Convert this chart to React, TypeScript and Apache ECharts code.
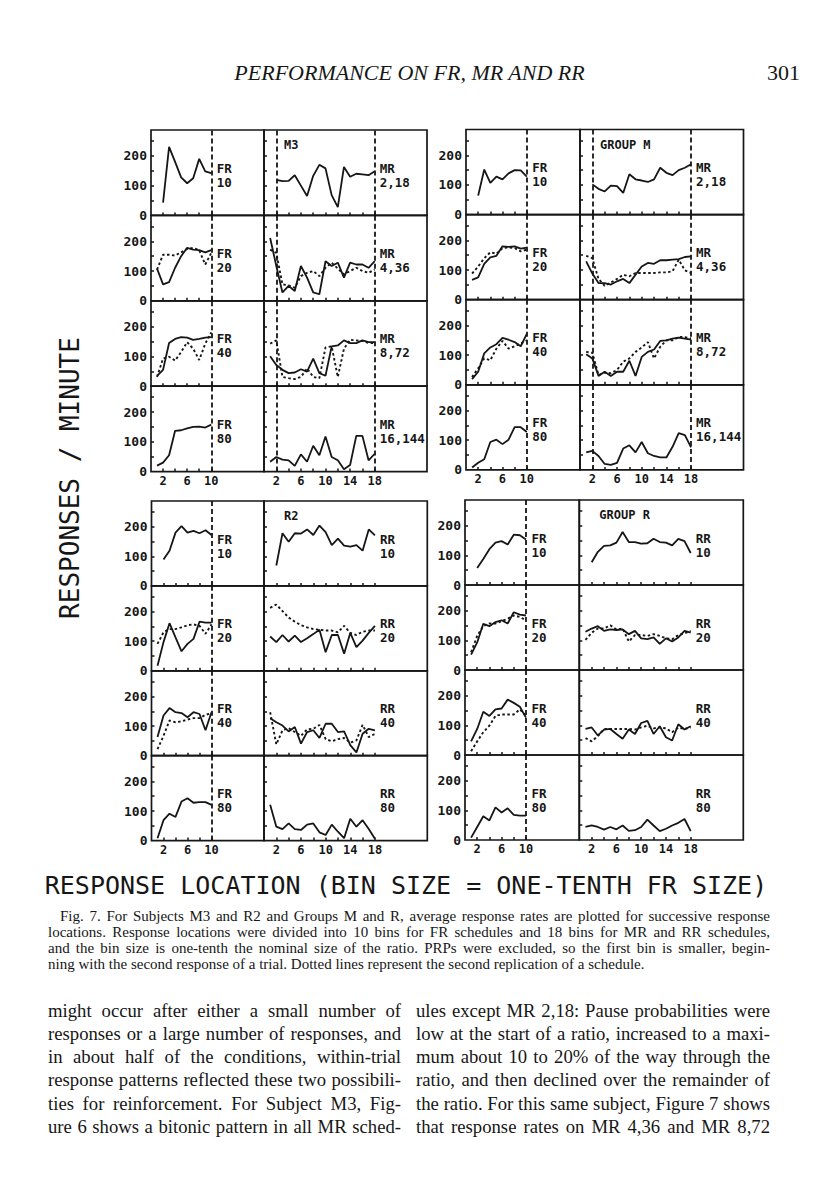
import React, { useEffect, useRef } from "react";
import * as echarts from "echarts";

// ---------- axis ticks / labels ----------
const FR_TICKS = [2, 4, 6, 8, 10];
const FR_TICK_LABELS = [2, 6, 10];
const MR_TICKS = [2, 4, 6, 8, 10, 12, 14, 16, 18];
const MR_TICK_LABELS = [2, 6, 10, 14, 18];
const Y_TICKS = [50, 100, 150, 200, 250];
const Y_TICK_LABELS = [0, 100, 200];

const FR_SCHEDULES = ["10", "20", "40", "80"];
const MR_SCHEDULES = ["2,18", "4,36", "8,72", "16,144"];
const RR_SCHEDULES = ["10", "20", "40", "80"];

// ---------- Subject M3 ----------
const m3Fr10 = [43, 230, 180, 128, 108, 125, 190, 148, 142]; // starts at bin 2
const m3Mr2_18 = [119, 115, 116, 135, 100, 65, 133, 170, 158, 68, 28, 163, 130, 140, 138, 135, 148]; // bin 2
const m3Fr20 = [108, 55, 63, 111, 150, 178, 172, 170, 163, 170];
const m3Fr20b = [105, 155, 155, 152, 163, 174, 178, 170, 122, 161];
const m3Mr4_36 = [211, 117, 28, 50, 33, 117, 78, 28, 22, 133, 117, 128, 78, 128, 122, 122, 111, 133];
const m3Mr4_36b = [172, 161, 55, 52, 44, 83, 94, 100, 83, 111, 128, 108, 89, 100, 111, 100, 94, 105];
const m3Fr40 = [35, 55, 145, 159, 165, 163, 156, 159, 163, 165];
const m3Fr40b = [31, 93, 99, 86, 115, 148, 126, 88, 143, 181];
const m3Mr8_72 = [101, 71, 55, 44, 46, 57, 49, 93, 44, 35, 134, 137, 154, 145, 145, 154, 148, 148];
const m3Mr8_72b = [143, 154, 31, 27, 24, 31, 60, 31, 27, 130, 134, 31, 126, 156, 154, 152, 145, 145];
const m3Fr80 = [20, 30, 55, 137, 139, 145, 150, 151, 148, 158];
const m3Mr16_144 = [33, 49, 40, 38, 19, 58, 33, 87, 55, 118, 49, 38, 8, 22, 120, 120, 38, 60];

// ---------- Group M ----------
const gmFr10 = [64, 152, 107, 128, 119, 139, 150, 149, 128]; // bin 2
const gmMr2_18 = [102, 87, 78, 98, 96, 73, 136, 119, 115, 110, 119, 158, 141, 133, 150, 158, 170]; // bin 2
const gmFr20 = [67, 75, 121, 143, 148, 180, 178, 180, 172, 176];
const gmFr20b = [88, 112, 140, 160, 155, 174, 176, 174, 163, 169];
const gmMr4_36 = [129, 88, 56, 56, 51, 62, 70, 56, 84, 112, 124, 121, 133, 133, 135, 137, 144, 146];
const gmMr4_36b = [148, 140, 70, 47, 58, 70, 84, 79, 90, 90, 90, 90, 92, 92, 96, 135, 99, 90];
const gmFr40 = [19, 44, 106, 126, 137, 158, 152, 144, 130, 172];
const gmFr40b = [26, 56, 89, 83, 122, 148, 122, 130, 139, 150];
const gmMr8_72 = [103, 89, 30, 44, 30, 44, 44, 81, 30, 94, 111, 119, 148, 150, 156, 159, 156, 152];
const gmMr8_72b = [111, 108, 33, 41, 39, 50, 78, 89, 111, 126, 144, 89, 128, 150, 150, 161, 161, 156];
const gmFr80 = [8, 24, 36, 94, 102, 87, 102, 144, 144, 128];
const gmMr16_144 = [59, 64, 47, 20, 17, 24, 72, 83, 59, 94, 56, 47, 42, 42, 78, 124, 117, 76];

// ---------- Subject R2 ----------
const r2Fr10 = [89, 119, 180, 202, 180, 186, 178, 188, 172]; // bin 2
const r2Rr10 = [69, 178, 149, 178, 177, 191, 172, 204, 182, 138, 160, 136, 133, 138, 119, 191, 171]; // bin 2
const r2Fr20 = [17, 97, 161, 113, 66, 91, 108, 166, 163, 163];
const r2Fr20b = [91, 130, 141, 141, 147, 154, 157, 152, 125, 157];
const r2Rr20 = [116, 97, 121, 99, 119, 97, 110, 124, 139, 63, 121, 121, 58, 128, 80, 102, 128, 152];
const r2Rr20b = [213, 224, 202, 180, 166, 154, 147, 141, 139, 136, 136, 130, 152, 128, 121, 132, 136, 136];
const r2Fr40 = [63, 136, 161, 147, 144, 130, 147, 141, 86, 147];
const r2Fr40b = [22, 67, 119, 113, 116, 122, 127, 127, 138, 144];
const r2Rr40 = [127, 113, 102, 82, 97, 41, 80, 86, 60, 108, 108, 80, 82, 36, 11, 74, 91, 86];
const r2Rr40b = [147, 38, 86, 93, 80, 67, 89, 91, 104, 56, 49, 56, 60, 44, 52, 104, 63, 74];
const r2Fr80 = [8, 69, 91, 80, 132, 143, 128, 130, 130, 121];
const r2Rr80 = [121, 47, 39, 58, 39, 36, 54, 58, 28, 19, 54, 30, 8, 74, 47, 69, 39, 6];

// ---------- Group R ----------
const grFr10 = [57, 88, 121, 143, 148, 137, 170, 168, 154]; // bin 2
const grRr10 = [77, 112, 132, 134, 143, 179, 145, 145, 140, 141, 156, 145, 143, 134, 156, 148, 108]; // bin 2
const grFr20 = [52, 93, 156, 148, 162, 168, 157, 195, 187, 184];
const grFr20b = [60, 115, 148, 157, 157, 165, 173, 184, 179, 168];
const grRr20 = [129, 140, 148, 132, 137, 135, 137, 121, 132, 107, 104, 110, 88, 107, 96, 110, 132, 126];
const grRr20b = [102, 126, 140, 140, 151, 137, 140, 96, 118, 118, 115, 121, 115, 107, 104, 118, 124, 132];
const grFr40 = [46, 88, 146, 132, 154, 157, 187, 176, 163, 126];
const grFr40b = [13, 46, 77, 99, 132, 137, 137, 137, 154, 132];
const grRr40 = [88, 93, 66, 86, 88, 71, 55, 86, 71, 108, 115, 71, 97, 60, 49, 104, 86, 97];
const grRr40b = [57, 46, 64, 88, 88, 88, 88, 88, 86, 93, 99, 90, 93, 90, 77, 93, 88, 93];
const grFr80 = [8, 44, 80, 66, 110, 93, 107, 85, 82, 82];
const grRr80 = [44, 49, 44, 35, 44, 36, 49, 31, 33, 44, 69, 49, 30, 38, 49, 58, 71, 30];

// ---------- texts ----------
const HEADER = "PERFORMANCE ON FR, MR AND RR";
const PAGE_NO = "301";
const Y_TITLE = "RESPONSES / MINUTE";
const X_TITLE = "RESPONSE LOCATION (BIN SIZE = ONE-TENTH FR SIZE)";
const CAPTION = [
  "Fig. 7. For Subjects M3 and R2 and Groups M and R, average response rates are plotted for successive response",
  "locations. Response locations were divided into 10 bins for FR schedules and 18 bins for MR and RR schedules,",
  "and the bin size is one-tenth the nominal size of the ratio. PRPs were excluded, so the first bin is smaller, begin-",
  "ning with the second response of a trial. Dotted lines represent the second replication of a schedule.",
];
const BODY_LEFT = [
  "might occur after either a small number of",
  "responses or a large number of responses, and",
  "in about half of the conditions, within-trial",
  "response patterns reflected these two possibili-",
  "ties for reinforcement. For Subject M3, Fig-",
  "ure 6 shows a bitonic pattern in all MR sched-",
];
const BODY_RIGHT = [
  "ules except MR 2,18: Pause probabilities were",
  "low at the start of a ratio, increased to a maxi-",
  "mum about 10 to 20% of the way through the",
  "ratio, and then declined over the remainder of",
  "the ratio. For this same subject, Figure 7 shows",
  "that response rates on MR 4,36 and MR 8,72",
];

// ---------- layout ----------
const INK = "#161616";
const MONO = "DejaVu Sans Mono";
const SERIF = "Liberation Serif";
const FR_MAX = 18.75;
const MR_MAX = 26.5;
const Y_MAX = 287;

type Row = { solid: number[]; dotted?: number[]; start: number };
type Block = {
  subject: string;
  ratio: "MR" | "RR";
  left: number;
  top: number;
  frW: number;
  mrW: number;
  rowH: number;
  fr: Row[];
  mr: Row[];
  mrDashes: number[];
};

const BLOCKS: Block[] = [
  {
    subject: "M3", ratio: "MR", left: 151, top: 130, frW: 113, mrW: 163, rowH: 85.4, mrDashes: [2, 18],
    fr: [
      { solid: m3Fr10, start: 2 },
      { solid: m3Fr20, dotted: m3Fr20b, start: 1 },
      { solid: m3Fr40, dotted: m3Fr40b, start: 1 },
      { solid: m3Fr80, start: 1 },
    ],
    mr: [
      { solid: m3Mr2_18, start: 2 },
      { solid: m3Mr4_36, dotted: m3Mr4_36b, start: 1 },
      { solid: m3Mr8_72, dotted: m3Mr8_72b, start: 1 },
      { solid: m3Mr16_144, start: 1 },
    ],
  },
  {
    subject: "GROUP M", ratio: "MR", left: 466, top: 129.5, frW: 114, mrW: 163.5, rowH: 85.1, mrDashes: [2, 18],
    fr: [
      { solid: gmFr10, start: 2 },
      { solid: gmFr20, dotted: gmFr20b, start: 1 },
      { solid: gmFr40, dotted: gmFr40b, start: 1 },
      { solid: gmFr80, start: 1 },
    ],
    mr: [
      { solid: gmMr2_18, start: 2 },
      { solid: gmMr4_36, dotted: gmMr4_36b, start: 1 },
      { solid: gmMr8_72, dotted: gmMr8_72b, start: 1 },
      { solid: gmMr16_144, start: 1 },
    ],
  },
  {
    subject: "R2", ratio: "RR", left: 151.5, top: 501, frW: 112.5, mrW: 163.3, rowH: 84.9, mrDashes: [],
    fr: [
      { solid: r2Fr10, start: 2 },
      { solid: r2Fr20, dotted: r2Fr20b, start: 1 },
      { solid: r2Fr40, dotted: r2Fr40b, start: 1 },
      { solid: r2Fr80, start: 1 },
    ],
    mr: [
      { solid: r2Rr10, start: 2 },
      { solid: r2Rr20, dotted: r2Rr20b, start: 1 },
      { solid: r2Rr40, dotted: r2Rr40b, start: 1 },
      { solid: r2Rr80, start: 1 },
    ],
  },
  {
    subject: "GROUP R", ratio: "RR", left: 465, top: 500, frW: 114.3, mrW: 164, rowH: 85, mrDashes: [],
    fr: [
      { solid: grFr10, start: 2 },
      { solid: grFr20, dotted: grFr20b, start: 1 },
      { solid: grFr40, dotted: grFr40b, start: 1 },
      { solid: grFr80, start: 1 },
    ],
    mr: [
      { solid: grRr10, start: 2 },
      { solid: grRr20, dotted: grRr20b, start: 1 },
      { solid: grRr40, dotted: grRr40b, start: 1 },
      { solid: grRr80, start: 1 },
    ],
  },
];

function pts(vals: number[], start: number) {
  return vals.map((v, i) => [start + i, v]);
}

let measureCtx: CanvasRenderingContext2D | null = null;
function measure(text: string, font: string) {
  if (!measureCtx) measureCtx = document.createElement("canvas").getContext("2d");
  if (!measureCtx) return 0;
  measureCtx.font = font;
  return measureCtx.measureText(text).width;
}

function fitSize(lines: string[], widths: number[], family: string, style: string, maxSize: number) {
  let s = maxSize;
  lines.forEach((l, i) => {
    const w = measure(l, `${style} 100px "${family}"`);
    if (w > 0) s = Math.min(s, (widths[i] / w) * 100);
  });
  return s;
}

// place a line of text, justified to the given width when asked
function textLine(out: any[], text: string, x: number, y: number, width: number, size: number, justify: boolean) {
  const style = { fill: INK, fontFamily: SERIF, fontSize: size, textAlign: "left", textVerticalAlign: "middle" };
  const words = text.split(" ");
  const font = `${size}px "${SERIF}"`;
  const widths = words.map((w) => measure(w, font));
  const total = widths.reduce((a, b) => a + b, 0);
  if (!justify || words.length < 2 || total <= 0) {
    out.push({ type: "text", x, y, style: { ...style, text } });
    return;
  }
  const gap = (width - total) / (words.length - 1);
  let cx = x;
  words.forEach((w, i) => {
    out.push({ type: "text", x: cx, y, style: { ...style, text: w } });
    cx += widths[i] + gap;
  });
}

function buildOption() {
  const grid: any[] = [];
  const xAxis: any[] = [];
  const yAxis: any[] = [];
  const series: any[] = [];
  const graphic: any[] = [];
  let gi = 0;

  const labelFont = { fontFamily: MONO, fontWeight: "bold", color: INK };

  BLOCKS.forEach((b) => {
    const mrLeft = b.left + b.frW;
    graphic.push({
      type: "text", x: mrLeft + 20, y: b.top + 15,
      style: { text: b.subject, fill: INK, fontFamily: MONO, fontWeight: "bold", fontSize: 12, textAlign: "left", textVerticalAlign: "middle" },
    });
    for (let r = 0; r < 4; r++) {
      const top = b.top + r * b.rowH;
      for (let c = 0; c < 2; c++) {
        const isFR = c === 0;
        const left = isFR ? b.left : mrLeft;
        const width = isFR ? b.frW : b.mrW;
        grid.push({ left, top, width, height: b.rowH, show: true, borderColor: INK, borderWidth: 1.7, backgroundColor: "transparent" });
        xAxis.push({
          gridIndex: gi, type: "value", min: 0, max: isFR ? FR_MAX : MR_MAX,
          axisLine: { show: false }, splitLine: { show: false },
          axisTick: { show: true, inside: true, length: 3, lineStyle: { color: INK, width: 1.5 }, customValues: isFR ? FR_TICKS : MR_TICKS },
          axisLabel: { show: r === 3, customValues: isFR ? FR_TICK_LABELS : MR_TICK_LABELS, margin: 3, fontSize: 12, ...labelFont },
        });
        yAxis.push({
          gridIndex: gi, type: "value", min: 0, max: Y_MAX,
          axisLine: { show: false }, splitLine: { show: false },
          axisTick: { show: true, inside: true, length: 3, lineStyle: { color: INK, width: 1.5 }, customValues: Y_TICKS },
          axisLabel: { show: isFR, customValues: Y_TICK_LABELS, margin: 4, fontSize: 13, ...labelFont },
        });
        const row = isFR ? b.fr[r] : b.mr[r];
        const dashes = isFR ? [10] : b.mrDashes;
        series.push({
          type: "line", xAxisIndex: gi, yAxisIndex: gi, data: pts(row.solid, row.start),
          symbol: "none", silent: true, lineStyle: { color: INK, width: 1.8 }, z: 3,
          markLine: dashes.length
            ? {
                silent: true, symbol: ["none", "none"], label: { show: false },
                lineStyle: { type: [5, 3], color: INK, width: 1.8 },
                data: dashes.map((d) => ({ xAxis: d })),
              }
            : undefined,
        });
        if (row.dotted) {
          series.push({
            type: "line", xAxisIndex: gi, yAxisIndex: gi, data: pts(row.dotted, row.start),
            symbol: "none", silent: true, lineStyle: { color: INK, width: 1.9, type: [2.5, 2.5] }, z: 3,
          });
        }
        // schedule label
        const sched = isFR ? FR_SCHEDULES[r] : b.ratio === "MR" ? MR_SCHEDULES[r] : RR_SCHEDULES[r];
        const name = isFR ? "FR" : b.ratio;
        const lx = isFR ? left + 10 * (width / FR_MAX) + 5.5 : left + 18 * (width / MR_MAX) + 5;
        graphic.push({
          type: "text", x: lx, y: top + 31,
          style: { text: `${name}\n${sched}`, fill: INK, fontFamily: MONO, fontWeight: "bold", fontSize: 12.5, lineHeight: 14, textAlign: "left", textVerticalAlign: "top" },
        });
        gi++;
      }
    }
  });

  // header
  const headerSize = fitSize([HEADER], [361], SERIF, "italic", 22);
  graphic.push({
    type: "text", x: 409.5, y: 72,
    style: { text: HEADER, fill: INK, fontFamily: SERIF, fontStyle: "italic", fontSize: headerSize, textAlign: "center", textVerticalAlign: "middle" },
  });
  graphic.push({
    type: "text", x: 800, y: 72,
    style: { text: PAGE_NO, fill: INK, fontFamily: SERIF, fontSize: headerSize, textAlign: "right", textVerticalAlign: "middle" },
  });

  // axis titles
  graphic.push({
    type: "text", x: 70, y: 478, rotation: Math.PI / 2,
    style: { text: Y_TITLE, fill: INK, fontFamily: MONO, fontSize: 26, textAlign: "center", textVerticalAlign: "middle" },
  });
  graphic.push({
    type: "text", x: 406, y: 885,
    style: { text: X_TITLE, fill: INK, fontFamily: MONO, fontSize: 25, textAlign: "center", textVerticalAlign: "middle" },
  });

  // caption (justified)
  const capWidths = [710, 722, 722];
  const capSize = fitSize(CAPTION.slice(0, 3), capWidths, SERIF, "normal", 15);
  CAPTION.forEach((l, i) => {
    textLine(graphic, l, i === 0 ? 60 : 48, 916 + i * 16, i === 0 ? 710 : 722, capSize, i < 3);
  });

  // body (two justified columns)
  const bodyAll = [...BODY_LEFT, ...BODY_RIGHT];
  const bodySize = fitSize(bodyAll, bodyAll.map(() => 353), SERIF, "normal", 19);
  BODY_LEFT.forEach((l, i) => textLine(graphic, l, 48, 1010 + i * 23.3, 353, bodySize, true));
  BODY_RIGHT.forEach((l, i) => textLine(graphic, l, 416, 1010 + i * 23.3, 354, bodySize, true));

  return {
    animation: false,
    backgroundColor: "#ffffff",
    grid, xAxis, yAxis, series, graphic,
  };
}

export default function App() {
  const ref = useRef<HTMLDivElement>(null);
  useEffect(() => {
    document.body.style.margin = "0";
    if (!ref.current) return;
    const chart = echarts.init(ref.current, undefined, { renderer: "svg", width: 816, height: 1200 });
    chart.setOption(buildOption() as any);
    return () => chart.dispose();
  }, []);
  return <div ref={ref} style={{ width: 816, height: 1200, background: "#fff" }} />;
}
